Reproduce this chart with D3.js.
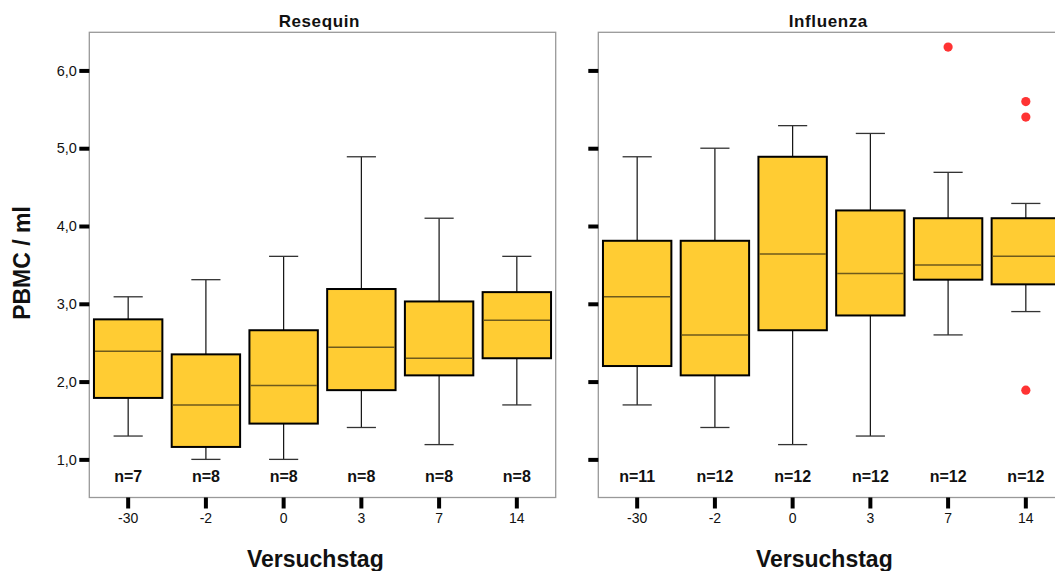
<!DOCTYPE html>
<html>
<head>
<meta charset="utf-8">
<script src="https://cdn.jsdelivr.net/npm/d3@7"></script>
<style>
  html, body { margin: 0; padding: 0; background: #fff; }
  svg { display: block; font-family: "Liberation Sans", Arial, sans-serif; }
</style>
</head>
<body>
<svg id="chart" width="1055" height="571"></svg>
<script>
// Study days (x categories) and y-axis tick labels
const days = ["-30", "-2", "0", "3", "7", "14"];
const yTicks = [1, 2, 3, 4, 5, 6];

// Resequin group: box-plot statistics per day
const resLow    = [1.30, 1.00, 1.00, 1.41, 1.19, 1.70];
const resQ1     = [1.79, 1.16, 1.46, 1.89, 2.08, 2.30];
const resMedian = [2.39, 1.70, 1.95, 2.44, 2.30, 2.79];
const resQ3     = [2.80, 2.35, 2.66, 3.19, 3.03, 3.15];
const resHigh   = [3.09, 3.31, 3.61, 4.89, 4.10, 3.61];
const resN      = [7, 8, 8, 8, 8, 8];

// Influenza group: box-plot statistics per day
const fluLow    = [1.70, 1.41, 1.19, 1.30, 2.60, 2.90];
const fluQ1     = [2.20, 2.08, 2.66, 2.85, 3.31, 3.25];
const fluMedian = [3.09, 2.60, 3.64, 3.39, 3.50, 3.61];
const fluQ3     = [3.81, 3.81, 4.89, 4.20, 4.10, 4.10];
const fluHigh   = [4.89, 5.00, 5.29, 5.19, 4.69, 4.29];
const fluN      = [11, 12, 12, 12, 12, 12];

// Influenza outliers (day, value)
const fluOutDay   = ["7", "14", "14", "14"];
const fluOutValue = [6.30, 5.60, 5.40, 1.89];

const svg = d3.select("#chart");

const plotTop = 32.3, plotBottom = 497.5;
const panelW = 466.4;
const y = d3.scaleLinear().domain([0.51, 6.49]).range([plotBottom, plotTop]);
const fmt = d => d.toFixed(1).replace(".", ",");

const panels = [
  { title: "Resequin", left: 89.3, labels: true,
    low: resLow, q1: resQ1, med: resMedian, q3: resQ3, high: resHigh, n: resN,
    outDay: [], outVal: [] },
  { title: "Influenza", left: 598.3, labels: false,
    low: fluLow, q1: fluQ1, med: fluMedian, q3: fluQ3, high: fluHigh, n: fluN,
    outDay: fluOutDay, outVal: fluOutValue }
];

panels.forEach(p => {
  const x = d3.scaleBand().domain(days).range([p.left, p.left + panelW]).padding(0);
  const bw = x.bandwidth();
  const boxW = bw * 0.88, capW = bw * 0.375;
  const g = svg.append("g");

  // Frame
  g.append("rect")
    .attr("x", p.left).attr("y", plotTop)
    .attr("width", panelW).attr("height", plotBottom - plotTop)
    .attr("fill", "none").attr("stroke", "#999").attr("stroke-width", 1.3);

  // Y axis: thick ticks, labels only on the first panel
  const yAxis = d3.axisLeft(y).tickValues(yTicks).tickSize(10)
    .tickFormat(p.labels ? fmt : () => "");
  const ya = g.append("g").attr("transform", `translate(${p.left},0)`).call(yAxis);
  ya.select(".domain").remove();
  ya.selectAll(".tick line").attr("stroke", "#000").attr("stroke-width", 4);
  ya.selectAll(".tick text").attr("x", -12.5).attr("font-size", 14.5)
    .attr("fill", "#111").attr("font-family", "Liberation Sans, Arial, sans-serif");

  // X axis
  const xAxis = d3.axisBottom(x).tickSize(11).tickPadding(5);
  const xa = g.append("g").attr("transform", `translate(0,${plotBottom})`).call(xAxis);
  xa.select(".domain").remove();
  xa.selectAll(".tick line").attr("stroke", "#000").attr("stroke-width", 4);
  xa.selectAll(".tick text").attr("font-size", 14).attr("fill", "#111")
    .attr("font-family", "Liberation Sans, Arial, sans-serif");

  const idx = d3.range(days.length);
  const cx = i => x(days[i]) + bw / 2;

  // Whiskers
  g.selectAll(".wu").data(idx).join("line")
    .attr("x1", cx).attr("x2", cx)
    .attr("y1", i => y(p.high[i])).attr("y2", i => y(p.q3[i]))
    .attr("stroke", "#111").attr("stroke-width", 1.2);
  g.selectAll(".wl").data(idx).join("line")
    .attr("x1", cx).attr("x2", cx)
    .attr("y1", i => y(p.q1[i])).attr("y2", i => y(p.low[i]))
    .attr("stroke", "#111").attr("stroke-width", 1.2);
  [p.high, p.low].forEach(arr => {
    g.selectAll(null).data(idx).join("line")
      .attr("x1", i => cx(i) - capW / 2).attr("x2", i => cx(i) + capW / 2)
      .attr("y1", i => y(arr[i])).attr("y2", i => y(arr[i]))
      .attr("stroke", "#333").attr("stroke-width", 1.3);
  });

  // Boxes
  g.selectAll(".box").data(idx).join("rect")
    .attr("x", i => cx(i) - boxW / 2).attr("width", boxW)
    .attr("y", i => y(p.q3[i])).attr("height", i => y(p.q1[i]) - y(p.q3[i]))
    .attr("fill", "#ffcc33").attr("stroke", "#000").attr("stroke-width", 2);

  // Medians
  g.selectAll(".med").data(idx).join("line")
    .attr("x1", i => cx(i) - boxW / 2 + 1).attr("x2", i => cx(i) + boxW / 2 - 1)
    .attr("y1", i => y(p.med[i])).attr("y2", i => y(p.med[i]))
    .attr("stroke", "#6e5a1c").attr("stroke-width", 1.5);

  // Outliers
  g.selectAll(".out").data(d3.range(p.outDay.length)).join("circle")
    .attr("cx", i => x(p.outDay[i]) + bw / 2)
    .attr("cy", i => y(p.outVal[i]))
    .attr("r", 4.6).attr("fill", "#ff3333");

  // Sample sizes
  g.selectAll(".n").data(idx).join("text")
    .attr("x", cx).attr("y", 481.7)
    .attr("text-anchor", "middle").attr("font-size", 16).attr("font-weight", "bold")
    .attr("fill", "#111")
    .text(i => "n=" + p.n[i]);

  // Panel title
  g.append("text")
    .attr("x", p.left + 230).attr("y", 27.3)
    .attr("text-anchor", "middle").attr("font-size", 17).attr("font-weight", "bold")
    .attr("letter-spacing", 0.6).attr("fill", "#111")
    .text(p.title);

  // X axis title
  g.append("text")
    .attr("x", p.left + 226).attr("y", 567)
    .attr("text-anchor", "middle").attr("font-size", 23).attr("font-weight", "bold")
    .attr("fill", "#111")
    .text("Versuchstag");
});

// Y axis title
svg.append("text")
  .attr("transform", "translate(29.5,263) rotate(-90)")
  .attr("text-anchor", "middle").attr("font-size", 23).attr("font-weight", "bold")
  .attr("fill", "#111")
  .text("PBMC / ml");
</script>
</body>
</html>
